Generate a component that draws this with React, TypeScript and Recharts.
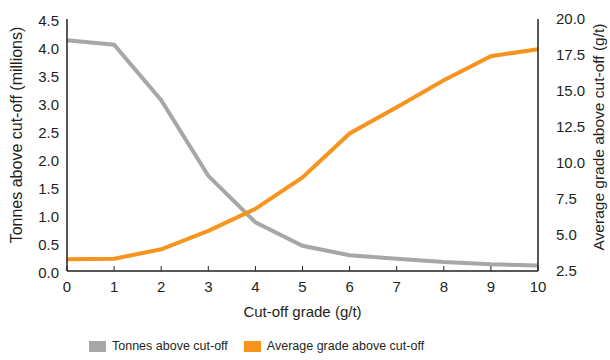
import { LineChart, Line, XAxis, YAxis, Legend } from 'recharts';

const grades = [0, 1, 2, 3, 4, 5, 6, 7, 8, 9, 10];
const tonnesAbove = [4.12, 4.04, 3.05, 1.7, 0.87, 0.45, 0.28, 0.22, 0.16, 0.12, 0.1];
const avgGradeAbove = [3.32, 3.35, 4.01, 5.29, 6.82, 9.0, 12.05, 13.87, 15.75, 17.42, 17.9];

const leftTicks = [0, 0.5, 1, 1.5, 2, 2.5, 3, 3.5, 4, 4.5];
const rightTicks = [2.5, 5, 7.5, 10, 12.5, 15, 17.5, 20];

const FONT = '"Liberation Sans Narrow", "Arial Narrow", "Liberation Sans", Arial, sans-serif';
const TEXT = '#231f20';
const GREY = '#a7a7a7';
const ORANGE = '#f7941d';

const data = grades.map((g, i) => ({
  grade: g,
  tonnes: tonnesAbove[i],
  avg: avgGradeAbove[i],
}));

function LegendBox() {
  const item = (color: string, label: string, gap: number) => (
    <span style={{ display: 'inline-flex', alignItems: 'center', marginRight: gap }}>
      <span style={{ width: 17, height: 11, background: color, display: 'inline-block', marginRight: 6 }} />
      <span>{label}</span>
    </span>
  );
  return (
    <div style={{ fontFamily: FONT, fontSize: 12.5, color: TEXT, whiteSpace: 'nowrap' }}>
      {item(GREY, 'Tonnes above cut-off', 16)}
      {item(ORANGE, 'Average grade above cut-off', 0)}
    </div>
  );
}

export default function App() {
  const tickStyle = { fontFamily: FONT, fontSize: 15, fill: TEXT };
  return (
    <div style={{ position: 'absolute', left: 0, top: 0, background: '#fff' }}>
      <LineChart width={610} height={360} data={data} margin={{ top: 19, right: 0, bottom: 0, left: 0 }}>
        <XAxis
          dataKey="grade"
          type="number"
          domain={[0, 10]}
          ticks={grades}
          height={89}
          tickSize={-5}
          tickMargin={15}
          tickLine={{ stroke: TEXT }}
          axisLine={{ stroke: TEXT, strokeWidth: 1.5 }}
          tick={tickStyle}
          label={{
            content: (p: any) => (
              <text
                x={p.viewBox.x + p.viewBox.width / 2}
                y={p.viewBox.y + 46}
                textAnchor="middle"
                style={{ fontFamily: FONT, fontSize: 15, fill: TEXT }}
              >
                Cut-off grade (g/t)
              </text>
            ),
          }}
        />
        <YAxis
          yAxisId="left"
          domain={[0, 4.5]}
          ticks={leftTicks}
          width={67}
          tickLine={false}
          axisLine={{ stroke: TEXT, strokeWidth: 1.5 }}
          tickFormatter={(v: number) => v.toFixed(1)}
          tick={{ ...tickStyle, dy: 2 }}
          label={{
            content: (p: any) => (
              <text
                transform={`translate(${p.viewBox.x + 22}, ${p.viewBox.y + 116}) rotate(-90)`}
                textAnchor="middle"
                style={{ fontFamily: FONT, fontSize: 16, fill: TEXT }}
              >
                Tonnes above cut-off (millions)
              </text>
            ),
          }}
        />
        <YAxis
          yAxisId="right"
          orientation="right"
          domain={[2.5, 20]}
          ticks={rightTicks}
          width={72}
          tickLine={false}
          tickMargin={12}
          axisLine={{ stroke: TEXT, strokeWidth: 1.5 }}
          tickFormatter={(v: number) => v.toFixed(1)}
          tick={tickStyle}
          label={{
            content: (p: any) => (
              <text
                transform={`translate(${p.viewBox.x + 66}, ${p.viewBox.y + 118}) rotate(-90)`}
                textAnchor="middle"
                style={{ fontFamily: FONT, fontSize: 15.5, fill: TEXT }}
              >
                Average grade above cut-off (g/t)
              </text>
            ),
          }}
        />
        <Legend
          layout="horizontal"
          verticalAlign="middle"
          content={() => <LegendBox />}
          wrapperStyle={{ top: 339, left: 89, width: 'auto' }}
        />
        <Line
          yAxisId="left"
          type="linear"
          dataKey="tonnes"
          stroke={GREY}
          strokeWidth={4}
          dot={false}
          isAnimationActive={false}
        />
        <Line
          yAxisId="right"
          type="linear"
          dataKey="avg"
          stroke={ORANGE}
          strokeWidth={4}
          dot={false}
          isAnimationActive={false}
        />
      </LineChart>
    </div>
  );
}
